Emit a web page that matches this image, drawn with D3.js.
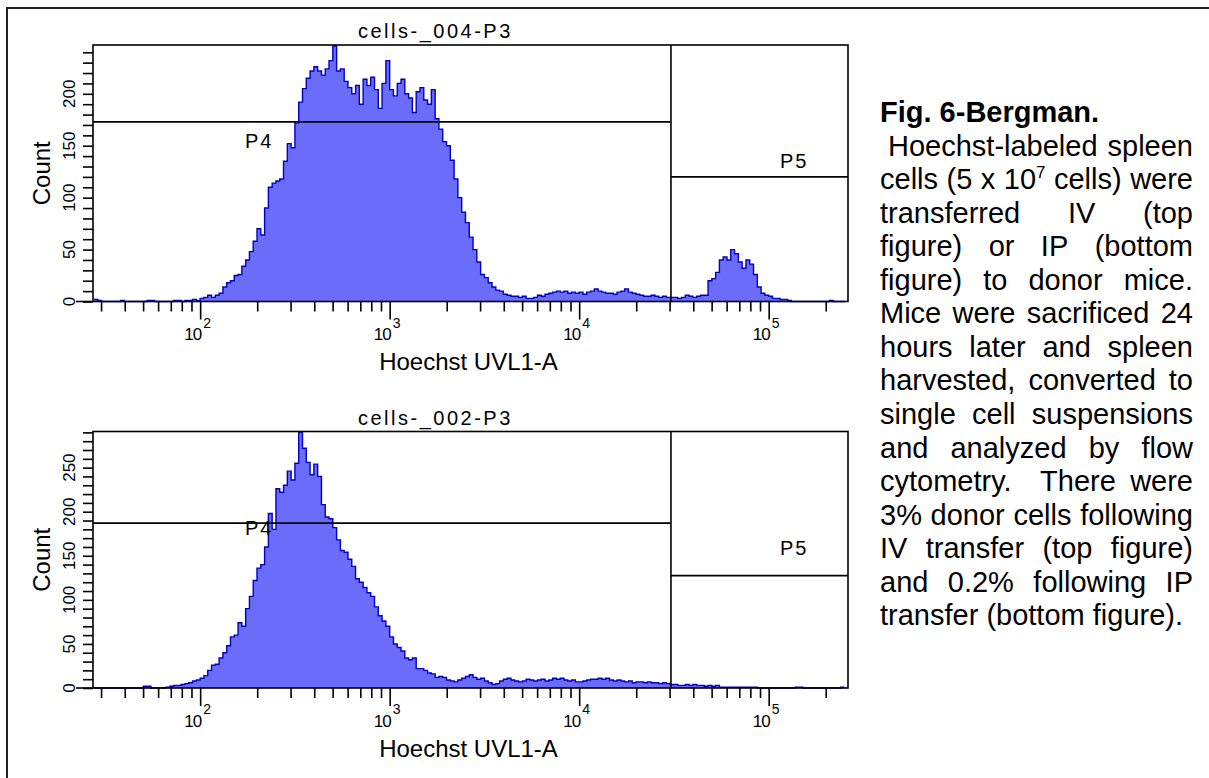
<!DOCTYPE html>
<html>
<head>
<meta charset="utf-8">
<script src="https://cdn.jsdelivr.net/npm/d3@7"></script>
<style>
body { margin: 0; background: #fff; }
svg { display: block; }
text { font-family: "Liberation Sans", Arial, sans-serif; fill: #000; }
</style>
</head>
<body>
<script>
// histogram bins, uniform in log10(Hoechst UVL1-A)
var binStart = 1.44;
var binStep = 0.02;

// top panel: cells-_004-P3 (IV transfer)
var topCounts = [
    2, 1, 0, 0, 0, 0, 0, 1, 0, 0, 0, 0, 0, 0, 1, 1, 0, 0, 0, 0,
    0, 1, 1, 0, 1, 1, 2, 1, 3, 4,
    6, 4, 6, 8, 14, 18, 20, 25, 26, 34, 40, 48, 58, 70, 64, 90, 110, 114, 116, 118,
    135, 152, 148, 172, 192, 205, 215, 222, 226, 222, 218, 224, 232, 246, 222, 224, 212, 206, 200, 208,
    190, 214, 208, 216, 204, 186, 210, 232, 204, 198, 210, 214, 200, 196, 182, 202, 206, 194, 190, 204,
    176, 166, 154, 150, 136, 118, 100, 86, 76, 62, 50, 38, 26, 23, 18, 14, 11, 10, 7, 6,
    5, 5, 4, 5, 3, 3, 4, 6, 5, 7, 8, 9, 10, 9, 10, 8, 9, 8, 9, 7,
    9, 10, 12, 10, 9, 8, 8, 7, 9, 10, 12, 9, 8, 7, 6, 5, 5, 6, 5, 4,
    5, 4, 4, 4, 3, 4, 6, 5, 4, 5, 6,
    6, 20, 22, 28, 40, 43, 40, 50, 46, 38, 32, 40, 36, 26, 14, 8, 6, 5, 3,
    3, 2, 2, 1, 0, 0, 0, 0, 0, 0, 0, 0, 0, 0, 1, 0, 0, 0, 0
];

// bottom panel: cells-_002-P3 (IP transfer)
var bottomCounts = [
    0, 0, 0, 0, 0, 0, 0, 0, 0, 0, 0, 0, 0, 2, 2, 0, 0, 0, 0, 1,
    2, 3, 3, 4, 5, 6, 8, 9, 11, 14,
    20, 26, 27, 34, 40, 48, 58, 60, 74, 70, 90, 104, 122, 136, 140, 160, 198, 180, 226, 222,
    230, 246, 236, 255, 290, 272, 256, 242, 254, 240, 208, 194, 192, 182, 168, 156, 154, 146, 138, 124,
    120, 114, 108, 104, 92, 82, 76, 70, 58, 50, 46, 42, 34, 32, 34, 22, 22, 20, 17, 16,
    12, 13, 12, 9, 8, 7, 9, 11, 13, 15,
    12, 10, 11, 8, 6, 4, 5, 8, 10, 11, 9, 8, 7, 8, 10, 9, 8, 9, 10, 8,
    9, 11, 10, 11, 9, 8, 9, 7, 7, 8, 9, 10, 10, 11, 10, 11, 9, 8, 9, 8,
    7, 8, 6, 7, 7, 6, 7, 6, 6, 5, 6, 5, 4, 4, 3, 3, 4, 3, 4, 3,
    3, 2, 3, 2, 3, 1, 1, 1, 1, 1, 1, 1, 1, 1, 1, 0, 0, 0, 0, 0,
    0, 0, 0, 0, 0, 1, 1, 0, 0, 0, 0, 0, 0, 0, 0, 0, 0, 1, 1
];

var panelTitles = ["cells-_004-P3", "cells-_002-P3"];
var yMax = [247, 291];
var yTickLabels = [[0, 50, 100, 150, 200], [0, 50, 100, 150, 200, 250]];
var xTickExponents = [2, 3, 4, 5];
var xDomain = [27.2, 262144];
var gateSplit = 30500;       // boundary between P4 and P5
var gateP4 = [173, 187];     // count level of the P4 marker
var gateP5 = [120, 127.5];   // count level of the P5 marker
var xTitle = "Hoechst UVL1-A";
var yTitle = "Count";

var captionLines = [
    {text: "Fig. 6-Bergman.", bold: true, justify: false},
    {text: " Hoechst-labeled spleen", justify: true},
    {text: "cells (5 x 10^7 cells) were", justify: true},
    {text: "transferred IV (top", justify: true},
    {text: "figure) or IP (bottom", justify: true},
    {text: "figure) to donor mice.", justify: true},
    {text: "Mice were sacrificed 24", justify: true},
    {text: "hours later and spleen", justify: true},
    {text: "harvested, converted to", justify: true},
    {text: "single cell suspensions", justify: true},
    {text: "and analyzed by flow", justify: true},
    {text: "cytometry.  There were", justify: true},
    {text: "3% donor cells following", justify: true},
    {text: "IV transfer (top figure)", justify: true},
    {text: "and 0.2% following IP", justify: true},
    {text: "transfer (bottom figure).", justify: false}
];

var width = 1209;
var height = 778;

var svg = d3.select("body")
    .append("svg")
    .attr("width", width)
    .attr("height", height);

// outer frame of the figure
svg.append("rect")
    .attr("x", 7)
    .attr("y", 8)
    .attr("width", 1400)
    .attr("height", 1000)
    .attr("fill", "none")
    .attr("stroke", "#222")
    .attr("stroke-width", 2);

var plotLeft = 93;
var plotRight = 848;

const x = d3.scaleLog()
    .domain(xDomain)
    .range([plotLeft, plotRight]);

var panels = [
    {top: 45, bottom: 301.5, counts: topCounts, p4dy: 26, p5dy: -9},
    {top: 431.5, bottom: 688, counts: bottomCounts, p4dy: 12, p5dy: -21}
];

panels.forEach((p, k) => {
    var g = svg.append("g");

    const y = d3.scaleLinear()
        .domain([0, yMax[k]])
        .range([p.bottom, p.top]);

    var data = p.counts.map((c, i) => ({v: Math.pow(10, binStart + binStep * i), c: c}));

    var area = d3.area()
        .x(d => x(d.v))
        .y0(y(0))
        .y1(d => y(d.c))
        .curve(d3.curveStepAfter);

    var line = d3.line()
        .x(d => x(d.v))
        .y(d => y(d.c))
        .curve(d3.curveStepAfter);

    g.append("path")
        .datum(data)
        .attr("d", area)
        .attr("fill", "#6c6cfb");

    g.append("path")
        .datum(data)
        .attr("d", line)
        .attr("fill", "none")
        .attr("stroke", "#0000c4")
        .attr("stroke-width", 1.4);

    // x axis: minor and decade ticks
    var allTicks = x.ticks();
    var minor = allTicks.filter(t => Math.abs(Math.log10(t) - Math.round(Math.log10(t))) > 1e-6);
    var major = allTicks.filter(t => Math.abs(Math.log10(t) - Math.round(Math.log10(t))) <= 1e-6);

    var xMinor = g.append("g")
        .attr("transform", `translate(0, ${p.bottom})`)
        .call(d3.axisBottom(x).tickValues(minor).tickSize(10).tickFormat(""));
    xMinor.select(".domain").remove();

    var xMajor = g.append("g")
        .attr("transform", `translate(0, ${p.bottom})`)
        .call(d3.axisBottom(x).tickValues(major).tickSize(18).tickFormat(""));
    xMajor.select(".domain").remove();

    g.selectAll(".tick line")
        .attr("stroke", "#000")
        .attr("stroke-width", 1.6);

    xTickExponents.forEach(e => {
        var tx = x(Math.pow(10, e));
        g.append("text")
            .attr("x", tx + 1)
            .attr("y", p.bottom + 38.5)
            .attr("text-anchor", "end")
            .attr("font-size", 17)
            .attr("letter-spacing", -1)
            .text("10");
        g.append("text")
            .attr("x", tx + 3)
            .attr("y", p.bottom + 26)
            .attr("font-size", 14)
            .text(e);
    });

    // y axis
    var yAxis = g.append("g")
        .attr("transform", `translate(${plotLeft}, 0)`)
        .call(d3.axisLeft(y).tickValues(d3.range(0, yMax[k], 10)).tickSize(10).tickFormat(""));
    yAxis.select(".domain").remove();
    yAxis.selectAll(".tick line")
        .attr("stroke", "#000")
        .attr("stroke-width", 1.6);

    yTickLabels[k].forEach(v => {
        g.append("text")
            .attr("transform", `translate(75, ${y(v)}) rotate(-90)`)
            .attr("text-anchor", "middle")
            .attr("font-size", 17)
            .text(v);
    });

    // plot frame and extended baseline
    g.append("rect")
        .attr("x", plotLeft)
        .attr("y", p.top)
        .attr("width", plotRight - plotLeft)
        .attr("height", p.bottom - p.top)
        .attr("fill", "none")
        .attr("stroke", "#000")
        .attr("stroke-width", 1.6);

    g.append("line")
        .attr("x1", 76)
        .attr("x2", plotLeft)
        .attr("y1", y(0))
        .attr("y2", y(0))
        .attr("stroke", "#000")
        .attr("stroke-width", 1.6);

    // gates P4 / P5
    var xs = x(gateSplit);
    g.append("line")
        .attr("x1", xs).attr("x2", xs)
        .attr("y1", p.top).attr("y2", p.bottom)
        .attr("stroke", "#000")
        .attr("stroke-width", 1.6);
    g.append("line")
        .attr("x1", plotLeft).attr("x2", xs)
        .attr("y1", y(gateP4[k])).attr("y2", y(gateP4[k]))
        .attr("stroke", "#000")
        .attr("stroke-width", 1.6);
    g.append("line")
        .attr("x1", xs).attr("x2", plotRight)
        .attr("y1", y(gateP5[k])).attr("y2", y(gateP5[k]))
        .attr("stroke", "#000")
        .attr("stroke-width", 1.6);

    g.append("text")
        .attr("x", 245)
        .attr("y", y(gateP4[k]) + p.p4dy)
        .attr("font-size", 20)
        .attr("letter-spacing", 2)
        .text("P4");
    g.append("text")
        .attr("x", 780)
        .attr("y", y(gateP5[k]) + p.p5dy)
        .attr("font-size", 20)
        .attr("letter-spacing", 2)
        .text("P5");

    // titles
    g.append("text")
        .attr("x", 358)
        .attr("y", p.top - 7)
        .attr("font-size", 20)
        .attr("letter-spacing", 2.5)
        .text(panelTitles[k]);

    g.append("text")
        .attr("x", (plotLeft + plotRight) / 2 - 2)
        .attr("y", p.bottom + 68.5)
        .attr("text-anchor", "middle")
        .attr("font-size", 24)
        .text(xTitle);

    g.append("text")
        .attr("transform", `translate(50, ${(p.top + p.bottom) / 2}) rotate(-90)`)
        .attr("text-anchor", "middle")
        .attr("font-size", 24)
        .text(yTitle);
});

// caption, justified like the source document
var cap = svg.append("g");
var capX0 = 880;
var capX1 = 1193;
var capY0 = 122;
var capLead = 33.55;

captionLines.forEach((ln, i) => {
    var yy = capY0 + i * capLead;
    var start = capX0;
    var txt = ln.text;
    if (txt.startsWith(" ")) {
        start += 8;
        txt = txt.slice(1);
    }
    var words = txt.split(" ");
    var nodes = words.map(w => {
        var t = cap.append("text")
            .attr("y", yy)
            .attr("font-size", 29)
            .attr("font-weight", ln.bold ? "bold" : "normal");
        var parts = w.split("^");
        t.append("tspan").text(parts[0]);
        if (parts[1]) {
            t.append("tspan")
                .attr("dy", -11)
                .attr("font-size", 17)
                .text(parts[1]);
        }
        return t;
    });
    var widths = nodes.map(t => t.node().getComputedTextLength());
    var total = d3.sum(widths);
    var gap = ln.justify ? (capX1 - start - total) / (words.length - 1) : 8.06;
    var cx = start;
    nodes.forEach((t, j) => {
        t.attr("x", cx);
        cx += widths[j] + gap;
    });
});
</script>
</body>
</html>
